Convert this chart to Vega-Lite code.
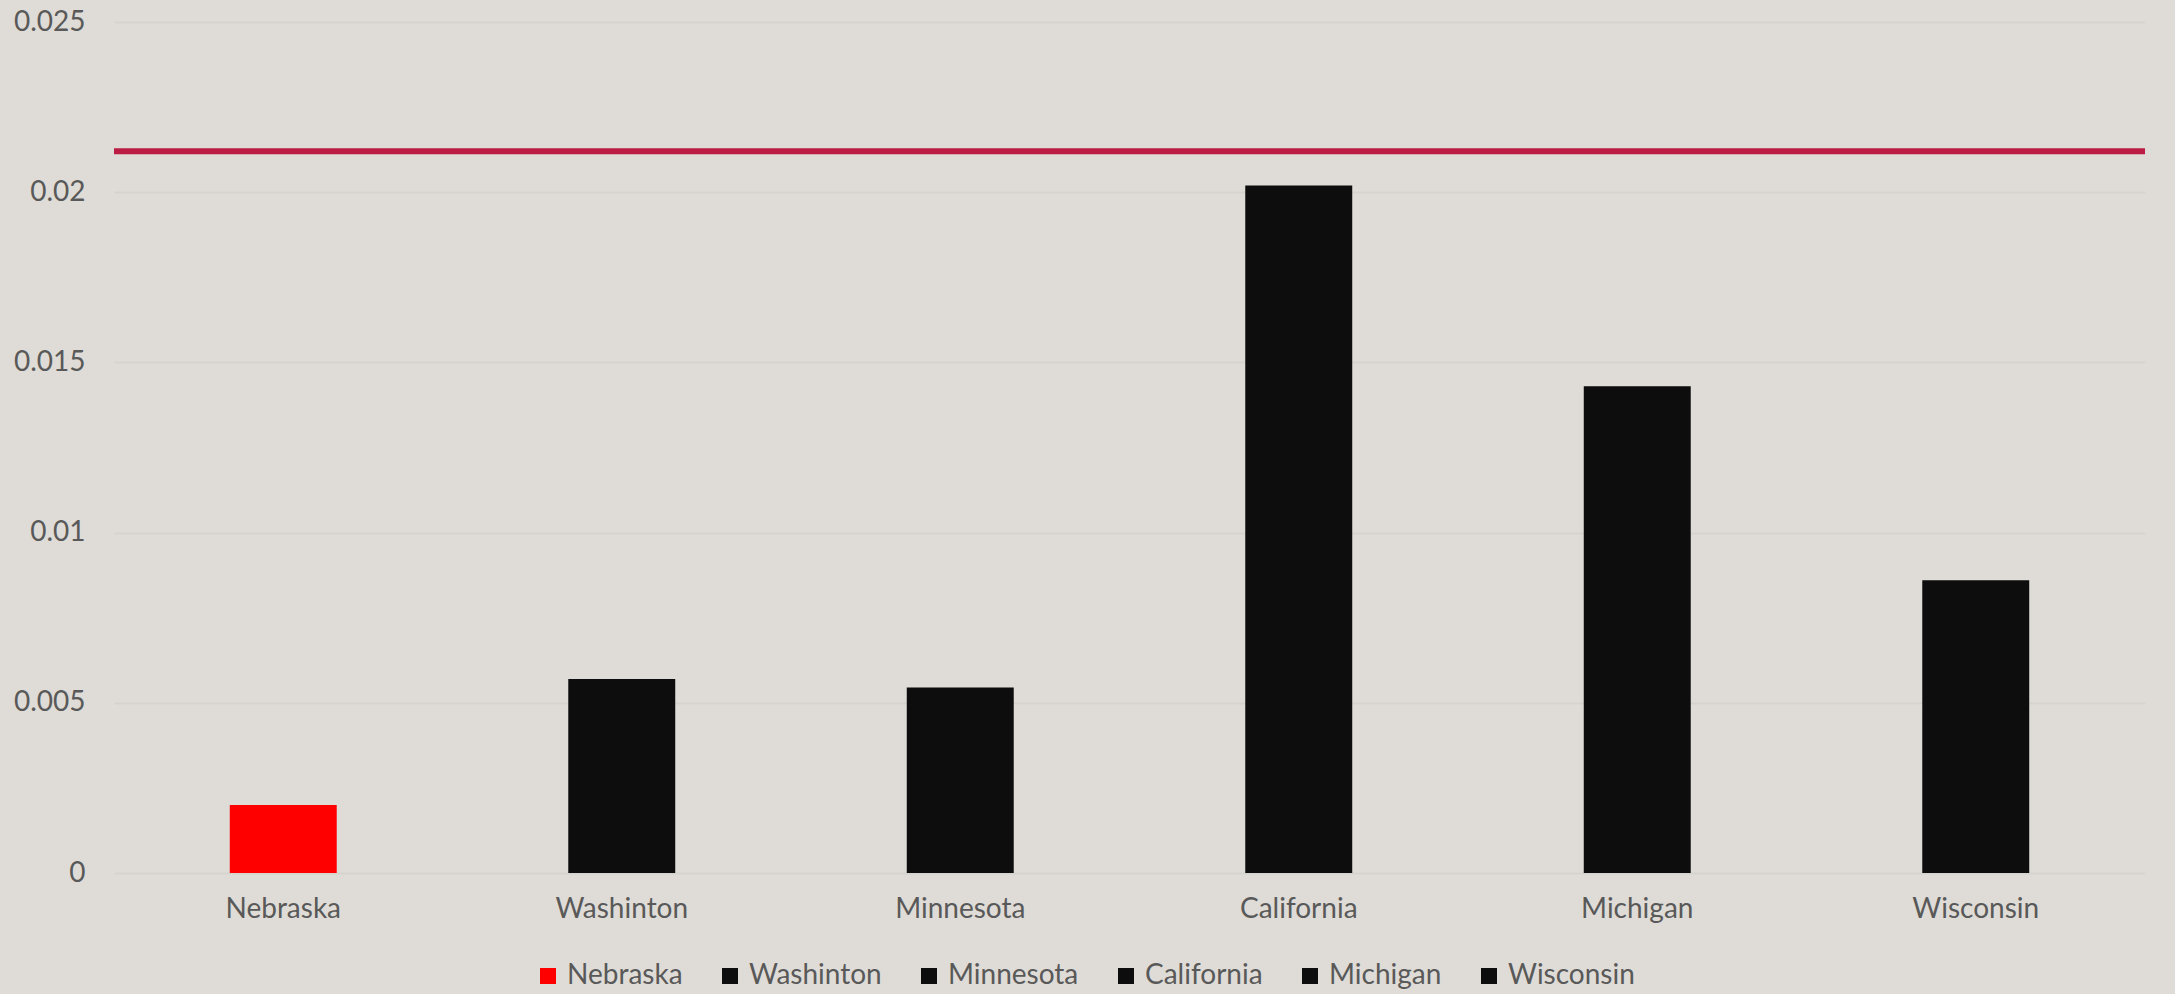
{
  "$schema": "https://vega.github.io/schema/vega-lite/v6.json",
  "autosize": "none",
  "width": 2031,
  "height": 851,
  "padding": {"left": 114, "top": 22, "right": 30, "bottom": 121},
  "background": "#dfdcd7",
  "config": {
    "view": {"stroke": null},
    "font": "Lato",
    "axis": {"labelFont": "Lato", "labelColor": "#595959", "labelFontSize": 28}
  },
  "datasets": {
    "bars": [
      {"state": "Nebraska", "value": 0.0020},
      {"state": "Washinton", "value": 0.0057},
      {"state": "Minnesota", "value": 0.00545},
      {"state": "California", "value": 0.0202},
      {"state": "Michigan", "value": 0.0143},
      {"state": "Wisconsin", "value": 0.0086}
    ],
    "target": [{"value": 0.0212}]
  },
  "layer": [
    {
      "data": {"name": "bars"},
      "mark": {"type": "bar", "width": {"band": 0.316}},
      "encoding": {
        "x": {
          "field": "state", "type": "nominal", "sort": null,
          "scale": {"paddingInner": 0, "paddingOuter": 0},
          "axis": {"title": null, "labelAngle": 0, "ticks": false, "domain": false, "grid": false, "labelPadding": 22}
        },
        "y": {
          "field": "value", "type": "quantitative",
          "scale": {"domain": [0, 0.025], "nice": false},
          "axis": {
            "title": null, "values": [0, 0.005, 0.01, 0.015, 0.02, 0.025], "format": "~g",
            "ticks": false, "domain": false, "labelPadding": 29,
            "gridColor": "#d6d3cf", "gridWidth": 2
          }
        },
        "color": {
          "field": "state", "type": "nominal",
          "scale": {
            "domain": ["Nebraska", "Washinton", "Minnesota", "California", "Michigan", "Wisconsin"],
            "range": ["#ff0000", "#0d0d0d", "#0d0d0d", "#0d0d0d", "#0d0d0d", "#0d0d0d"]
          },
          "legend": {
            "title": null, "orient": "none", "direction": "horizontal",
            "legendX": 420, "legendY": 940,
            "symbolType": "square", "symbolSize": 256, "symbolStrokeWidth": 0,
            "labelFont": "Lato", "labelFontSize": 28, "labelColor": "#595959",
            "labelOffset": 5, "columnPadding": 33
          }
        }
      }
    },
    {
      "data": {"name": "target"},
      "mark": {"type": "rule", "color": "#ba1c44", "strokeWidth": 6},
      "encoding": {"y": {"field": "value", "type": "quantitative"}}
    }
  ]
}
